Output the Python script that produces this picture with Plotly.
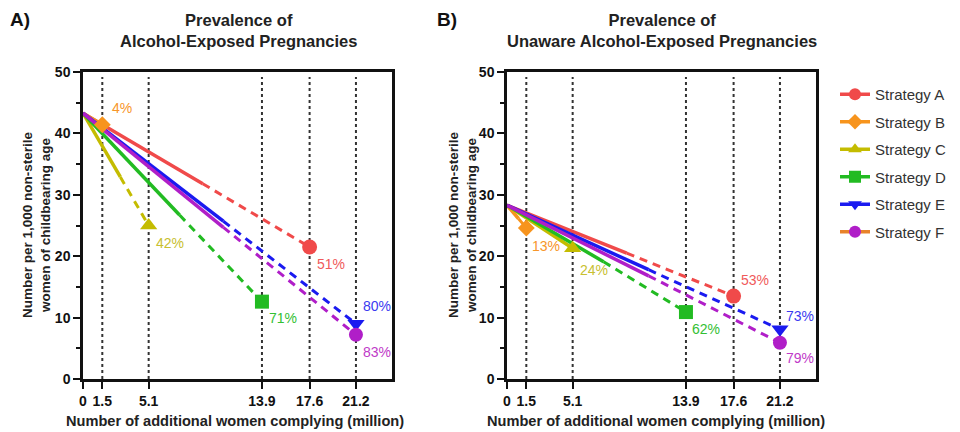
import plotly.graph_objects as go

# ---------------- data ----------------
strategies = ["Strategy A", "Strategy B", "Strategy C", "Strategy D", "Strategy E", "Strategy F"]
x_women = [17.6, 1.5, 5.1, 13.9, 21.2, 21.2]          # million additional women complying
x_ticks = [0, 1.5, 5.1, 13.9, 17.6, 21.2]
y_ticks = [0, 10, 20, 30, 40, 50]

# Panel A: prevalence of alcohol-exposed pregnancies
a_start = 43.3
a_end = [21.5, 41.4, 25.0, 12.6, 9.0, 7.2]
a_break_x = [9.3, 1.5, 2.9, 7.5, 10.9, 10.9]
a_break_y = [31.8, 41.4, 32.9, 26.7, 25.7, 24.7]
a_labels = ["51%", "4%", "42%", "71%", "80%", "83%"]

# Panel B: prevalence of unaware alcohol-exposed pregnancies
b_start = 28.3
b_end = [13.5, 24.6, 21.3, 10.9, 8.1, 5.9]
b_break_x = [9.3, 0.9, 5.1, 7.5, 11.0, 11.0]
b_break_y = [20.5, 26.1, 21.3, 19.1, 17.8, 16.8]
b_labels = ["53%", "13%", "24%", "62%", "73%", "79%"]

# ---------------- style ----------------
colors = ["#F04A4A", "#F7941D", "#C4BC00", "#22BB22", "#1A1AF0", "#B01EC8"]
label_colors = ["#F05A5A", "#F7962A", "#C8C030", "#33C033", "#3A3AF0", "#C03AC8"]
legend_line_colors = ["#F04A4A", "#F7941D", "#C4BC00", "#22BB22", "#1A1AF0", "#E8822A"]
symbols = ["circle", "diamond", "triangle-up", "square", "triangle-down", "circle"]
msize = [15, 13, 15, 14, 15, 14]
a_shift = [(5, -17), (8, 17), (5, -17), (5, -16), (5, 18), (5, -17)]
b_shift = [(5, 16), (4, -18), (5, -22), (4, -17), (4, 13), (4, -15)]

FONT = "Liberation Sans, Arial, sans-serif"

# the page body has an 8px margin: the figure is drawn 8px in from the top-left
OFF = 8
W, H = 960 - OFF, 432 - OFF
def px(X):
    return (X - OFF) / W
def py(Y):
    return 1 - (Y - OFF) / H

fig = go.Figure()

panels = [
    ("x", "y", a_start, a_end, a_break_x, a_break_y, a_labels, a_shift),
    ("x2", "y2", b_start, b_end, b_break_x, b_break_y, b_labels, b_shift),
]

annotations = []
shapes = []
for xa, ya, start, ends, bx, by, labs, shifts in panels:
    # vertical dotted reference lines
    for xv in x_ticks[1:]:
        shapes.append(dict(type="line", xref=xa, yref=ya, x0=xv, x1=xv, y0=0, y1=49.2,
                           line=dict(color="#333333", width=2, dash="dot"), layer="below"))
    for i in range(len(strategies)):
        # dashed part
        if bx[i] < x_women[i]:
            fig.add_trace(go.Scatter(x=[bx[i], x_women[i]], y=[by[i], ends[i]], xaxis=xa, yaxis=ya,
                                     mode="lines", line=dict(color=colors[i], width=3, dash="8px,6px"),
                                     showlegend=False, hoverinfo="skip"))
    for i in range(len(strategies)):
        # solid part
        fig.add_trace(go.Scatter(x=[0, bx[i]], y=[start, by[i]], xaxis=xa, yaxis=ya,
                                 mode="lines", line=dict(color=colors[i], width=3.5),
                                 showlegend=False, hoverinfo="skip"))
    for i in range(len(strategies)):
        fig.add_trace(go.Scatter(x=[x_women[i]], y=[ends[i]], xaxis=xa, yaxis=ya, mode="markers",
                                 marker=dict(color=colors[i], symbol=symbols[i], size=msize[i]),
                                 showlegend=False, cliponaxis=False))
        annotations.append(dict(x=x_women[i], y=ends[i], xref=xa, yref=ya, text=labs[i],
                                showarrow=False, xanchor="left", yanchor="middle",
                                xshift=shifts[i][0], yshift=shifts[i][1],
                                font=dict(family=FONT, size=14, color=label_colors[i])))

# legend entries
for i, name in enumerate(strategies):
    fig.add_trace(go.Scatter(x=[None], y=[None], mode="lines+markers", name=name,
                             line=dict(color=legend_line_colors[i], width=3.5),
                             marker=dict(color=colors[i], symbol=symbols[i], size=12),
                             legendgroup=name))

axis_common = dict(range=[0, 24], tickvals=x_ticks, ticktext=[str(v) for v in x_ticks],
                   showline=True, linewidth=2.5, linecolor="#111111", mirror=True,
                   ticks="outside", ticklen=7, tickwidth=2, tickcolor="#111111",
                   showgrid=False, zeroline=False, automargin=False,
                   tickfont=dict(family=FONT, size=14, color="#111111", weight="bold"))
yaxis_common = dict(range=[0, 50], tickvals=y_ticks, showline=True, linewidth=2.5,
                    linecolor="#111111", mirror=True, ticks="outside", ticklen=7, tickwidth=2,
                    tickcolor="#111111", showgrid=False, zeroline=False, automargin=False,
                    minor=dict(tickvals=[5, 15, 25, 35, 45], ticks="outside", ticklen=4,
                               tickwidth=2, tickcolor="#111111", showgrid=False),
                    tickfont=dict(family=FONT, size=14, color="#111111", weight="bold"))

fig.update_layout(
    width=W, height=H, autosize=False,
    margin=dict(l=0, r=0, t=0, b=0, autoexpand=False),
    paper_bgcolor="white", plot_bgcolor="white",
    xaxis=dict(domain=[px(83), px(392)], anchor="y", **axis_common),
    yaxis=dict(domain=[py(379), py(72)], anchor="x", **yaxis_common),
    xaxis2=dict(domain=[px(507), px(816)], anchor="y2", **axis_common),
    yaxis2=dict(domain=[py(379), py(72)], anchor="x2", **yaxis_common),
    legend=dict(x=px(835), y=py(78), xanchor="left", yanchor="top",
                font=dict(family=FONT, size=15, color="#333333"),
                tracegroupgap=5, bgcolor="rgba(0,0,0,0)"),
    shapes=shapes,
    showlegend=True,
)

# titles and axis titles
def paper_text(x, y, text, size, color="#222222", angle=0, xanchor="center"):
    annotations.append(dict(x=px(x), y=py(y), xref="paper", yref="paper", text=text,
                            showarrow=False, xanchor=xanchor, yanchor="middle", textangle=angle,
                            font=dict(family=FONT, size=size, color=color, weight="bold")))

paper_text(8, 20, "A)", 19, "#111111", xanchor="left")
paper_text(435, 20, "B)", 19, "#111111", xanchor="left")
paper_text(238, 30, "Prevalence of<br>Alcohol-Exposed Pregnancies", 16.5)
paper_text(662, 30, "Prevalence of<br>Unaware Alcohol-Exposed Pregnancies", 16.5)
paper_text(36, 225, "Number per 1,000 non-sterile<br>women of childbearing age", 13.5, angle=-90)
paper_text(462, 225, "Number per 1,000 non-sterile<br>women of childbearing age", 13.5, angle=-90)
paper_text(235, 421, "Number of additional women complying (million)", 14.6)
paper_text(656, 421, "Number of additional women complying (million)", 14.6)

fig.update_layout(annotations=annotations)
fig.write_html("out.html")
